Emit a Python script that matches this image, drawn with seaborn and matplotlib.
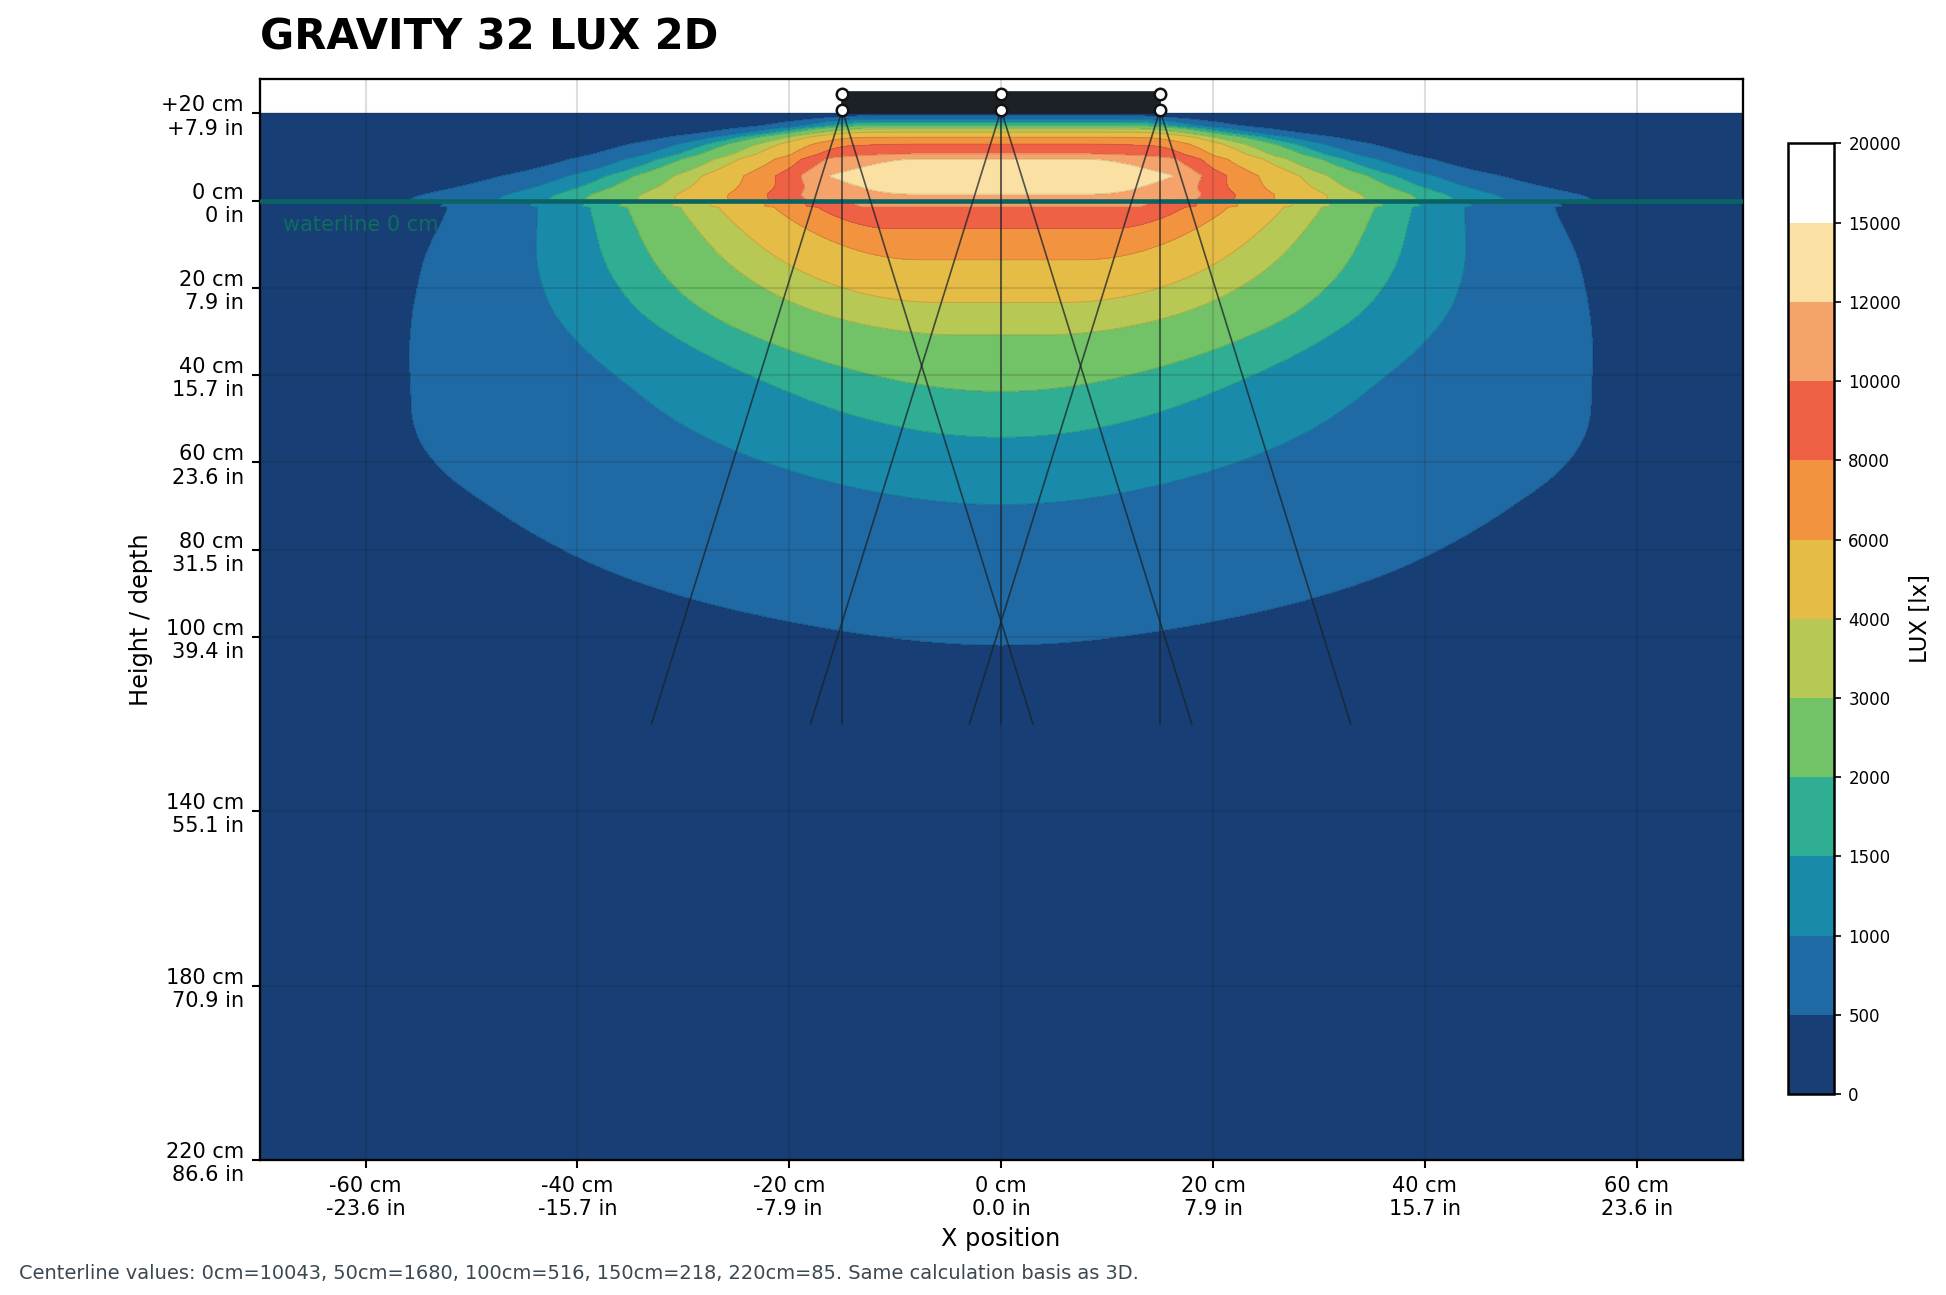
import numpy as np
import matplotlib
matplotlib.use("Agg")
import matplotlib.pyplot as plt
import seaborn as sns
from matplotlib.patches import Rectangle

# lux bands and their colours
lux_levels = [0, 500, 1000, 1500, 2000, 3000, 4000, 6000, 8000, 10000, 12000, 15000, 20000]
band_colors = ["#173f75", "#1f6aa5", "#1a8aab", "#2fae94", "#72c267", "#b7c855",
               "#e4bc46", "#f2943f", "#ef6145", "#f5a36b", "#fbe0a3", "#ffffff"]

water_depth = [0, 1.3, 6.6, 13.6, 23.3, 30.5, 43.6, 50, 69.5, 100, 150, 220]
water_lux = [10043, 10000, 8000, 6000, 4000, 3000, 2000, 1680, 1000, 516, 218, 85]

# lateral falloff below the waterline: flat half width, knee and falloff length (cm)
prof_depth = [0, 2, 6, 12, 19.5, 27.7, 40, 50, 60, 80, 90, 100, 150, 220]
prof_flat = [15, 13, 10, 8, 6, 6, 0, 0, 0, 0, 0, 0, 0, 0]
prof_knee = [2.3, 3.5, 6, 10, 16, 18, 22, 21, 20, 20, 20, 20, 20, 20]
prof_fall = [11.4, 12.0, 13.3, 14.6, 15.8, 18.2, 25.0, 31.5, 39, 55, 68, 82, 120, 170]

# centerline above the waterline (cm below the fixture -> lux)
air_dist = [0, 0.5, 1.3, 2.0, 2.8, 3.5, 4.3, 5.4, 7.0, 9.3, 10.5, 14.3, 18.5, 20]
air_lux = [300, 500, 1000, 1500, 2000, 3000, 4000, 6000, 8000, 10000, 12000, 14000, 12000, 11000]
# lateral falloff above the waterline: soft inner part (|x| 8..20 cm) and steep outer edge
air_inner_dist = [0, 7, 9, 10.5, 14.3, 17, 18.5, 20]
air_inner_fall = [150, 100, 45, 34, 33, 40, 60, 150]
air_outer_dist = [0, 7, 9, 10.5, 12, 14.3, 16, 18, 20]
air_outer_flat = [12, 14.1, 14.7, 15.2, 15.6, 16, 16, 16, 16]
air_outer_fall = [4, 6.5, 7.0, 7.5, 7.85, 8.85, 9.9, 11.05, 12.2]
air_inner_span = (8, 20)
air_knee = 4

# fixture and beam guide lines
emitters_x = [-15, 0, 15]
fixture_bottom, fixture_top = 20, 25
emitter_dots_y = [20.8, 24.5]
beam_end_depth = -120
beam_spread = 18

x_ticks = [-60, -40, -20, 0, 20, 40, 60]
x_ticklabels = ["-60 cm\n-23.6 in", "-40 cm\n-15.7 in", "-20 cm\n-7.9 in", "0 cm\n0.0 in",
                "20 cm\n7.9 in", "40 cm\n15.7 in", "60 cm\n23.6 in"]
y_ticks = [20, 0, -20, -40, -60, -80, -100, -140, -180, -220]
y_ticklabels = ["+20 cm\n+7.9 in", "0 cm\n0 in", "20 cm\n7.9 in", "40 cm\n15.7 in",
                "60 cm\n23.6 in", "80 cm\n31.5 in", "100 cm\n39.4 in", "140 cm\n55.1 in",
                "180 cm\n70.9 in", "220 cm\n86.6 in"]

sns.set_style("white", {"axes.edgecolor": "black", "xtick.bottom": True, "ytick.left": True,
                        "xtick.color": "black", "ytick.color": "black", "text.color": "black",
                        "axes.labelcolor": "black"})
plt.rcParams["font.family"] = ["DejaVu Sans"]


def smooth_interp(t, knots_t, knots_v, width):
    # piecewise linear through the knots, then a gaussian blur so contours have no kinks
    lo, hi = knots_t[0] - 4 * width, knots_t[-1] + 4 * width
    grid = np.linspace(lo, hi, 4000)
    vals = np.interp(grid, knots_t, knots_v)
    step = grid[1] - grid[0]
    k = np.arange(-4 * width, 4 * width + step, step)
    kern = np.exp(-0.5 * (k / width) ** 2)
    kern /= kern.sum()
    padded = np.concatenate([np.full(len(k), vals[0]), vals, np.full(len(k), vals[-1])])
    sm = np.convolve(padded, kern, mode="same")[len(k):-len(k)]
    return np.interp(t, grid, sm)


def falloff(absx, flat, knee, fall, cap=None):
    u = np.clip(absx - flat, 0, cap)
    return np.exp(-(np.sqrt(u ** 2 + knee ** 2) - knee) / fall)


# build the lux field
xs = np.linspace(-70, 70, 561)
ys = np.linspace(-220, 20, 961)
X, Y = np.meshgrid(xs, ys)
absx = np.abs(X)

depth = np.clip(-Y, 0, None)
log_lux = np.log(water_lux)
keep = [i for i in range(len(water_depth)) if i != 1]
log_c = smooth_interp(depth, [water_depth[i] for i in keep], log_lux[keep], 2.5)
log_c = np.where(depth < 1.3, np.maximum(log_c, np.interp(depth, water_depth, log_lux)), log_c)
water = np.exp(log_c) * falloff(
    absx, smooth_interp(depth, prof_depth, prof_flat, 4),
    smooth_interp(depth, prof_depth, prof_knee, 4),
    smooth_interp(depth, prof_depth, prof_fall, 4))

dist = np.clip(20 - Y, 0, 20)
air = (np.exp(np.interp(dist, air_dist, np.log(air_lux)))
       * falloff(absx, air_inner_span[0], air_knee,
                 smooth_interp(dist, air_inner_dist, air_inner_fall, 0.8),
                 cap=air_inner_span[1] - air_inner_span[0])
       * falloff(absx, smooth_interp(dist, air_outer_dist, air_outer_flat, 1.2), air_knee,
                 smooth_interp(dist, air_outer_dist, air_outer_fall, 1.2)))

lux = np.where(Y > 0, air, water)

fig = plt.figure(figsize=(1946 / 150, 1295 / 150), dpi=150)
ax = fig.add_axes([0.1334, 0.1042, 0.7621, 0.8351])
ax.set_facecolor("white")
ax.set_axisbelow("line")

cs = ax.contourf(X, Y, lux, levels=lux_levels, colors=band_colors, zorder=0)
ax.contour(X, Y, lux, levels=lux_levels[1:-2], colors="k", linewidths=0.5, alpha=0.12, zorder=0.5)

ax.grid(True, color="#1a1a1a", alpha=0.14, lw=1.0)

# waterline
ax.axhline(0, color="#0a6363", lw=2.2, zorder=3)
ax.text(-67.8, -5.6, "waterline 0 cm", color="#0d6e5c", fontsize=10, va="center", ha="left", zorder=3)

# beam guide lines
for x0 in emitters_x:
    for dx in (-beam_spread, 0, beam_spread):
        ax.plot([x0, x0 + dx], [emitter_dots_y[0], beam_end_depth], color="#1b2229", lw=0.8,
                alpha=0.75, zorder=4)

# fixture
ax.add_patch(Rectangle((emitters_x[0], fixture_bottom), emitters_x[-1] - emitters_x[0],
                       fixture_top - fixture_bottom, facecolor="#1b2127", edgecolor="#1b2127",
                       lw=0.8, zorder=5))
for x0 in emitters_x:
    ax.plot([x0, x0], emitter_dots_y, ls="none", marker="o", ms=5.5, mfc="white", mec="#111111",
            mew=1.2, zorder=6)

ax.set_xlim(-70, 70)
ax.set_ylim(-220, 28)
ax.set_xticks(x_ticks)
ax.set_xticklabels(x_ticklabels, fontsize=10)
ax.set_yticks(y_ticks)
ax.set_yticklabels(y_ticklabels, fontsize=10)
ax.tick_params(direction="out", length=4, width=1)
for sp in ax.spines.values():
    sp.set_linewidth(1.1)
    sp.set_color("black")

ax.set_xlabel("X position", fontsize=11.5)
ax.set_ylabel("Height / depth", fontsize=11.5)

fig.text(0.1334, 0.962, "GRAVITY 32 LUX 2D", fontsize=20, fontweight="bold", va="baseline")
fig.text(0.0098, 0.0125,
         "Centerline values: 0cm=10043, 50cm=1680, 100cm=516, 150cm=218, 220cm=85. "
         "Same calculation basis as 3D.", fontsize=9.3, color="#3b4852", va="baseline")

cax = fig.add_axes([0.9186, 0.1552, 0.0237, 0.734])
cb = fig.colorbar(cs, cax=cax, ticks=lux_levels)
cb.set_ticklabels([str(v) for v in lux_levels])
cb.ax.tick_params(labelsize=8, length=3.5)
cb.outline.set_linewidth(1.2)
cb.set_label("LUX [lx]", fontsize=11)

fig.savefig("out.png", dpi=150)
